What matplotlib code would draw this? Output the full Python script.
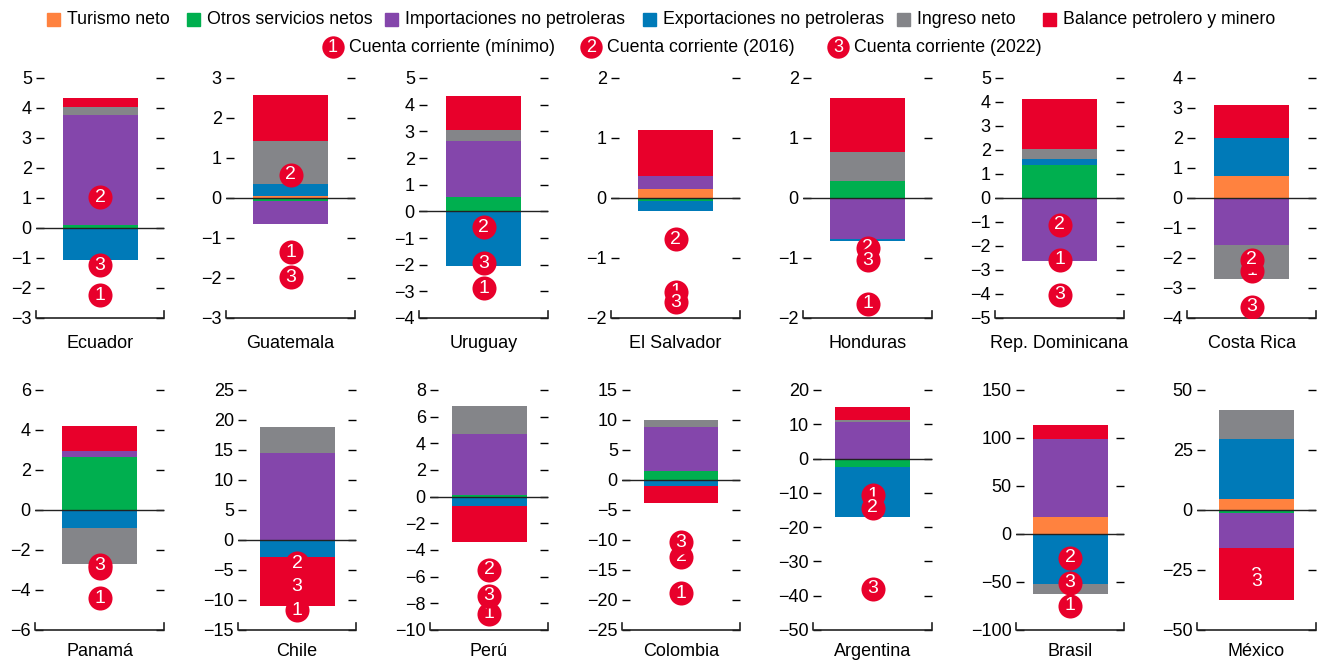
import numpy as np
import matplotlib
matplotlib.use("Agg")
import matplotlib.pyplot as plt
from matplotlib.patches import Rectangle

plt.rcParams['font.family'] = ['Liberation Sans', 'DejaVu Sans']

W, H = 1318, 662

series = ["Turismo neto", "Otros servicios netos", "Importaciones no petroleras",
          "Exportaciones no petroleras", "Ingreso neto", "Balance petrolero y minero"]
colors = ["#FF823F", "#00AF4F", "#8446AB", "#007AB8", "#848589", "#E8002B"]
marker_labels = ["Cuenta corriente (mínimo)", "Cuenta corriente (2016)", "Cuenta corriente (2022)"]

countries = ["Ecuador", "Guatemala", "Uruguay", "El Salvador", "Honduras", "Rep. Dominicana", "Costa Rica",
             "Panamá", "Chile", "Perú", "Colombia", "Argentina", "Brasil", "México"]

# componentes por país (mismo orden que series)
turismo = [0, 0.06, 0, 0.155, 0, 0, 0.74,
           0, 0, 0, 0, 0, 17.7, 4.6]
otros = [0.09, -0.08, 0.52, -0.055, 0.29, 1.39, 0,
         2.63, 0, 0.1, 1.5, -2.5, -1.0, -1.25]
importaciones = [3.69, -0.58, 2.13, 0.215, -0.68, -2.64, -1.56,
                 0.32, 14.5, 4.6, 7.3, 10.6, 80.9, -14.55]
exportaciones = [-1.08, 0.30, -2.06, -0.165, -0.03, 0.25, 1.27,
                 -0.9, -2.83, -0.68, -0.94, -14.5, -51.4, 24.8]
ingreso = [0.25, 1.06, 0.41, 0, 0.48, 0.42, -1.13,
           -1.78, 4.3, 2.1, 1.2, 0.6, -10.1, 12.3]
balance = [0.3, 1.16, 1.28, 0.77, 0.90, 2.07, 1.10,
           1.25, -8.11, -2.7, -2.84, 3.7, 15.4, -21.7]

cc_min = [-2.24, -1.36, -2.88, -1.56, -1.76, -2.57, -2.42,
          -4.42, -11.7, -8.8, -18.9, -10.7, -74.7, -29.5]
cc_2016 = [1.03, 0.58, -0.6, -0.69, -0.83, -1.11, -2.06,
           -2.9, -3.9, -5.5, -12.8, -14.4, -25.0, -27.5]
cc_2022 = [-1.24, -1.98, -1.94, -1.74, -1.04, -4.04, -3.63,
           -2.75, -7.8, -7.45, -10.4, -37.9, -51.0, -29.9]

yticks = [np.arange(-3, 6, 1), np.arange(-3, 4, 1), np.arange(-4, 6, 1), np.arange(-2, 3, 1),
          np.arange(-2, 3, 1), np.arange(-5, 6, 1), np.arange(-4, 5, 1),
          np.arange(-6, 7, 2), np.arange(-15, 26, 5), np.arange(-10, 9, 2), np.arange(-25, 16, 5),
          np.arange(-50, 21, 10), np.arange(-100, 151, 50), np.arange(-50, 51, 25)]

# posiciones de los paneles en pixeles (izq, der)
cols_top = [(36, 164), (226, 355), (419, 548), (611, 740), (803, 932), (995, 1124), (1187, 1316)]
cols_bot = [(35, 164), (238, 356), (430, 548), (622, 740), (813, 932), (1016, 1124), (1197, 1316)]
rows = [(78, 318, 343), (390, 630, 652)]

data = np.array([turismo, otros, importaciones, exportaciones, ingreso, balance])
marks = [cc_min, cc_2016, cc_2022]

fig = plt.figure(figsize=(W / 100, H / 100), dpi=100)

for i, name in enumerate(countries):
    r = 0 if i < 7 else 1
    left, right = (cols_top + cols_bot)[i]
    top, bottom, lab_y = rows[r]
    w = right - left
    ax = fig.add_axes([left / W, 1 - bottom / H, w / W, (bottom - top) / H])

    pos, neg = 0.0, 0.0
    for k in range(len(series)):
        v = data[k, i]
        if v >= 0:
            ax.bar(0, v, width=75, bottom=pos, color=colors[k], zorder=2)
            pos += v
        else:
            ax.bar(0, v, width=75, bottom=neg, color=colors[k], zorder=2)
            neg += v

    ax.axhline(0, color="#222222", lw=1, zorder=3)

    for k in range(3):
        y = marks[k][i]
        ax.scatter(0, y, s=300, color="#E8002B", zorder=4 + k * 2, linewidths=0)
        ax.text(0, y, str(k + 1), color="white", fontsize=14, ha="center", va="center",
                zorder=5 + k * 2)

    t = yticks[i]
    ax.set_xlim(-w / 2, w / 2)
    ax.set_ylim(t[0], t[-1])
    ax.set_yticks(t)
    ax.set_xticks([])
    for s in ax.spines.values():
        s.set_visible(False)
    ax.tick_params(axis="y", direction="in", length=6, width=1, right=True, labelright=False,
                   labelsize=13, pad=3)
    ax.plot([0, 0, 1, 1], [0.03, 0, 0, 0.03], transform=ax.transAxes, color="#222222",
            lw=1.2, clip_on=False, zorder=5)
    fig.text((left + right) / 2 / W, 1 - lab_y / H, name, ha="center", va="center", fontsize=13)

# leyenda
lg = fig.add_axes([0, 0, 1, 1])
lg.set_xlim(0, W)
lg.set_ylim(H, 0)
lg.axis("off")
sq_x = [47, 187, 385, 643, 897, 1043]
for k in range(len(series)):
    lg.add_patch(Rectangle((sq_x[k], 13), 13, 13, color=colors[k]))
    lg.text(sq_x[k] + 20, 20, series[k], fontsize=12.8, va="center", ha="left")
c_x = [333, 591, 838]
for k in range(3):
    lg.scatter(c_x[k], 47, s=260, color="#E8002B", linewidths=0)
    lg.text(c_x[k], 47.5, str(k + 1), color="white", fontsize=13, ha="center", va="center")
    lg.text(c_x[k] + 16, 47, marker_labels[k], fontsize=12.8, va="center", ha="left")

fig.savefig("out.png", dpi=100)
